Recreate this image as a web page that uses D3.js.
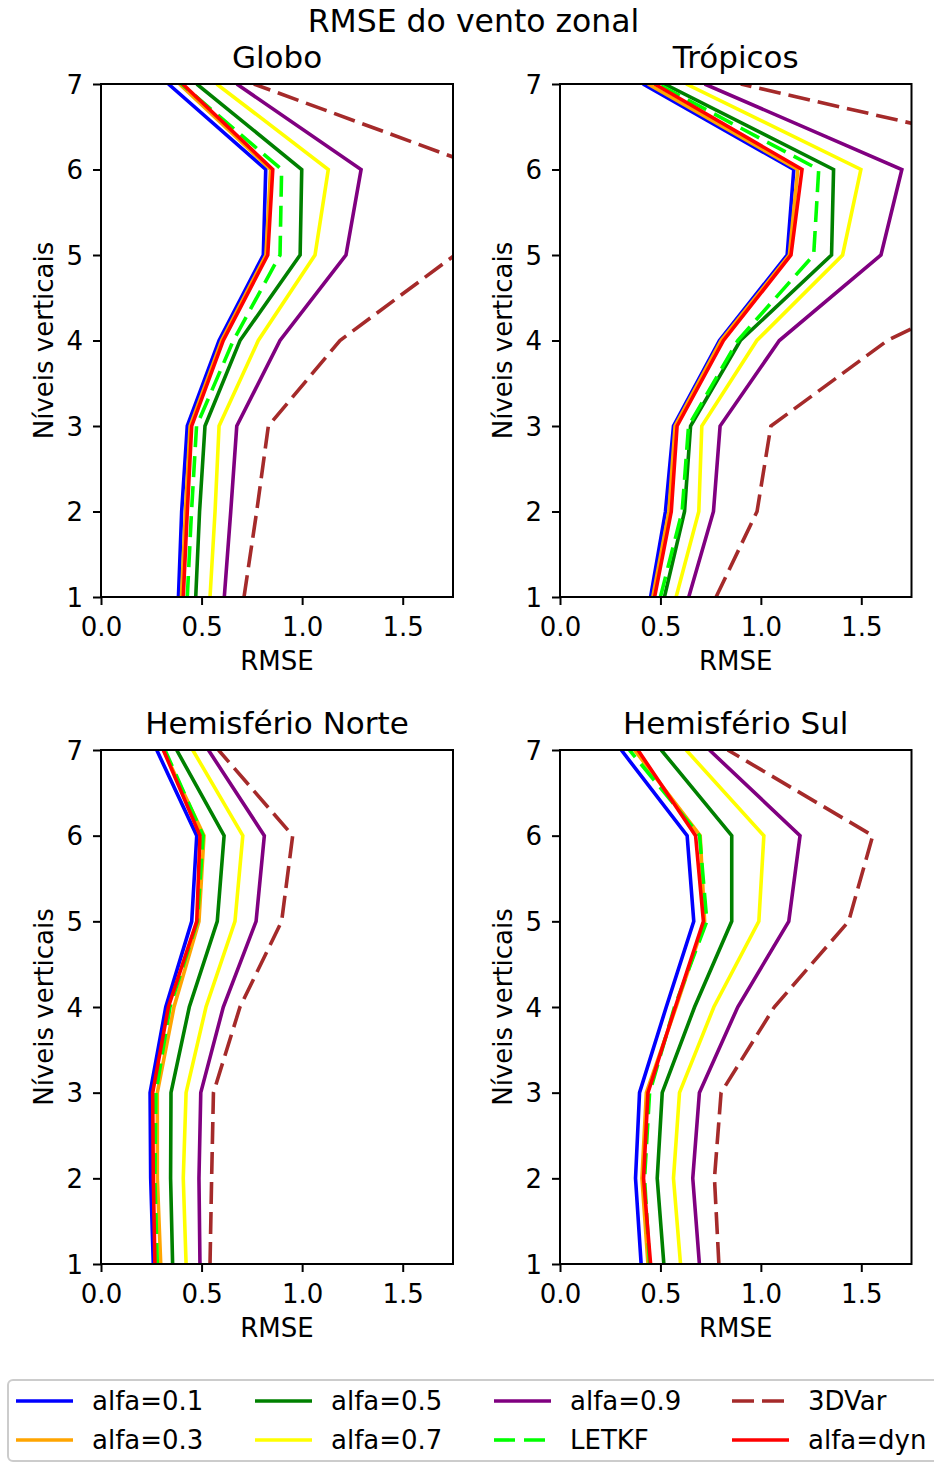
<!DOCTYPE html>
<html>
<head>
<meta charset="utf-8">
<script src="https://cdn.jsdelivr.net/npm/d3@7"></script>
<style>
  html, body { margin: 0; padding: 0; background: #fff; }
  text { font-family: "DejaVu Sans", sans-serif; fill: #000; }
</style>
</head>
<body>
<svg id="chart" width="934" height="1463"></svg>
<script>
// ---------- DATA ----------
const suptitle = "RMSE do vento zonal";
const regions = ["Globo", "Trópicos", "Hemisfério Norte", "Hemisfério Sul"];
const levels = [1, 2, 3, 4, 5, 6, 7];
const xTicks = [0.0, 0.5, 1.0, 1.5];
const seriesNames = ["alfa=0.1", "alfa=0.3", "alfa=0.5", "alfa=0.7", "alfa=0.9", "LETKF", "3DVar", "alfa=dyn"];

// values per level 1..7
const globo_a01 = [0.385, 0.401, 0.429, 0.587, 0.807, 0.819, 0.335];
const globo_a03 = [0.400, 0.420, 0.443, 0.600, 0.820, 0.843, 0.390];
const globo_a05 = [0.471, 0.490, 0.517, 0.691, 0.990, 0.998, 0.476];
const globo_a07 = [0.542, 0.567, 0.587, 0.782, 1.064, 1.130, 0.575];
const globo_a09 = [0.613, 0.645, 0.675, 0.890, 1.218, 1.293, 0.675];
const globo_letkf = [0.429, 0.450, 0.475, 0.658, 0.890, 0.898, 0.400];
const globo_3dvar = [0.711, 0.774, 0.832, 1.188, 1.760, 1.920, 0.760];
const globo_dyn = [0.409, 0.429, 0.451, 0.608, 0.829, 0.854, 0.406];

const trop_a01 = [0.451, 0.525, 0.565, 0.794, 1.131, 1.164, 0.413];
const trop_a03 = [0.462, 0.542, 0.573, 0.802, 1.142, 1.184, 0.438];
const trop_a05 = [0.520, 0.620, 0.650, 0.898, 1.352, 1.362, 0.520];
const trop_a07 = [0.578, 0.691, 0.706, 0.980, 1.407, 1.498, 0.628];
const trop_a09 = [0.641, 0.764, 0.797, 1.092, 1.598, 1.702, 0.720];
const trop_letkf = [0.500, 0.608, 0.640, 0.885, 1.263, 1.288, 0.487];
const trop_3dvar = [0.777, 0.981, 1.050, 1.630, 2.500, 2.750, 0.900];
const trop_dyn = [0.471, 0.554, 0.583, 0.814, 1.150, 1.205, 0.471];

const hn_a01 = [0.260, 0.247, 0.244, 0.322, 0.451, 0.476, 0.277];
const hn_a03 = [0.297, 0.280, 0.280, 0.363, 0.487, 0.512, 0.310];
const hn_a05 = [0.356, 0.346, 0.348, 0.439, 0.578, 0.612, 0.376];
const hn_a07 = [0.423, 0.409, 0.423, 0.522, 0.666, 0.705, 0.456];
const hn_a09 = [0.492, 0.487, 0.496, 0.608, 0.771, 0.812, 0.534];
const hn_letkf = [0.280, 0.268, 0.273, 0.343, 0.479, 0.508, 0.318];
const hn_3dvar = [0.542, 0.550, 0.559, 0.691, 0.898, 0.953, 0.584];
const hn_dyn = [0.268, 0.260, 0.257, 0.335, 0.476, 0.492, 0.310];

const hs_a01 = [0.404, 0.376, 0.396, 0.529, 0.666, 0.633, 0.305];
const hs_a03 = [0.438, 0.408, 0.430, 0.578, 0.720, 0.698, 0.371];
const hs_a05 = [0.517, 0.484, 0.509, 0.670, 0.855, 0.855, 0.504];
const hs_a07 = [0.600, 0.565, 0.595, 0.766, 0.990, 1.015, 0.628];
const hs_a09 = [0.694, 0.661, 0.694, 0.885, 1.139, 1.195, 0.744];
const hs_letkf = [0.446, 0.421, 0.446, 0.570, 0.731, 0.695, 0.346];
const hs_3dvar = [0.791, 0.769, 0.802, 1.067, 1.437, 1.557, 0.835];
const hs_dyn = [0.451, 0.416, 0.438, 0.574, 0.714, 0.675, 0.388];

const regionData = [
  [globo_a01, globo_a03, globo_a05, globo_a07, globo_a09, globo_letkf, globo_3dvar, globo_dyn],
  [trop_a01, trop_a03, trop_a05, trop_a07, trop_a09, trop_letkf, trop_3dvar, trop_dyn],
  [hn_a01, hn_a03, hn_a05, hn_a07, hn_a09, hn_letkf, hn_3dvar, hn_dyn],
  [hs_a01, hs_a03, hs_a05, hs_a07, hs_a09, hs_letkf, hs_3dvar, hs_dyn]
];

// ---------- STYLE ----------
const colors = ["#0000ff", "#ffa500", "#008000", "#ffff00", "#800080", "#00ff00", "#a52a2a", "#ff0000"];
const dashes = [null, null, null, null, null, "21,9", "22,8", null];
const lineW = 3.6;

const panels = [
  { x0: 101, x1: 453, y0: 84, y1: 597 },
  { x0: 560, x1: 911.5, y0: 84, y1: 597 },
  { x0: 101, x1: 453, y0: 750, y1: 1264 },
  { x0: 560, x1: 911.5, y0: 750, y1: 1264 }
];

const svg = d3.select("#chart");
svg.append("rect").attr("width", 934).attr("height", 1463).attr("fill", "#fff");

svg.append("text").attr("x", 473.5).attr("y", 32).attr("text-anchor", "middle")
  .style("font-size", "31.5px").text(suptitle);

const defs = svg.append("defs");

panels.forEach((p, i) => {
  const x = d3.scaleLinear().domain([0, 1.75]).range([p.x0, p.x1]);
  const y = d3.scaleLinear().domain([1, 7]).range([p.y1, p.y0]);
  const g = svg.append("g");

  defs.append("clipPath").attr("id", "clip" + i)
    .append("rect").attr("x", p.x0).attr("y", p.y0)
    .attr("width", p.x1 - p.x0).attr("height", p.y1 - p.y0);

  const line = d3.line().x(d => x(d.v)).y(d => y(d.l));
  const lg = g.append("g").attr("clip-path", "url(#clip" + i + ")");
  regionData[i].forEach((vals, s) => {
    const pts = vals.map((v, k) => ({ v: v, l: levels[k] }));
    lg.append("path").datum(pts)
      .attr("d", line)
      .attr("fill", "none")
      .attr("stroke", colors[s])
      .attr("stroke-width", lineW)
      .attr("stroke-linejoin", "miter")
      .attr("stroke-dasharray", dashes[s]);
  });

  // axes
  const ax = g.append("g").attr("transform", `translate(0,${p.y1})`)
    .call(d3.axisBottom(x).tickValues(xTicks).tickFormat(d3.format(".1f")).tickSize(8).tickSizeOuter(0));
  ax.select(".domain").remove();
  ax.selectAll("line").attr("stroke", "#000").attr("stroke-width", 2);
  ax.selectAll("text").attr("y", 39).attr("dy", 0).style("font-size", "26px")
    .style("font-family", "DejaVu Sans");

  const ay = g.append("g").attr("transform", `translate(${p.x0},0)`)
    .call(d3.axisLeft(y).tickValues(levels).tickFormat(d3.format("d")).tickSize(8).tickSizeOuter(0));
  ay.select(".domain").remove();
  ay.selectAll("line").attr("stroke", "#000").attr("stroke-width", 2);
  ay.selectAll("text").attr("x", -18).attr("dy", "0.35em").style("font-size", "26px")
    .style("font-family", "DejaVu Sans");

  // frame
  g.append("rect").attr("x", p.x0).attr("y", p.y0)
    .attr("width", p.x1 - p.x0).attr("height", p.y1 - p.y0)
    .attr("fill", "none").attr("stroke", "#000").attr("stroke-width", 2);

  const cx = (p.x0 + p.x1) / 2;
  g.append("text").attr("x", cx).attr("y", p.y0 - 16).attr("text-anchor", "middle")
    .style("font-size", "31px").text(regions[i]);
  g.append("text").attr("x", cx).attr("y", p.y1 + 73).attr("text-anchor", "middle")
    .style("font-size", "26px").text("RMSE");
  g.append("text")
    .attr("transform", `translate(${p.x0 - 48},${(p.y0 + p.y1) / 2}) rotate(-90)`)
    .attr("text-anchor", "middle")
    .style("font-size", "26px").text("Níveis verticais");
});

// ---------- LEGEND ----------
const leg = svg.append("g");
leg.append("rect").attr("x", 8).attr("y", 1380).attr("width", 940).attr("height", 81)
  .attr("rx", 5).attr("ry", 5)
  .attr("fill", "#fff").attr("stroke", "#cccccc").attr("stroke-width", 2);
const colX = [16, 255, 494, 732];
const rowY = [1401, 1440];
seriesNames.forEach((name, s) => {
  const c = Math.floor(s / 2), r = s % 2;
  const hx = colX[c], hy = rowY[r];
  leg.append("line").attr("x1", hx).attr("x2", hx + 57).attr("y1", hy).attr("y2", hy)
    .attr("stroke", colors[s]).attr("stroke-width", lineW)
    .attr("stroke-dasharray", dashes[s]);
  leg.append("text").attr("x", hx + 76).attr("y", hy + 9)
    .style("font-size", "26px").text(name);
});
</script>
</body>
</html>
